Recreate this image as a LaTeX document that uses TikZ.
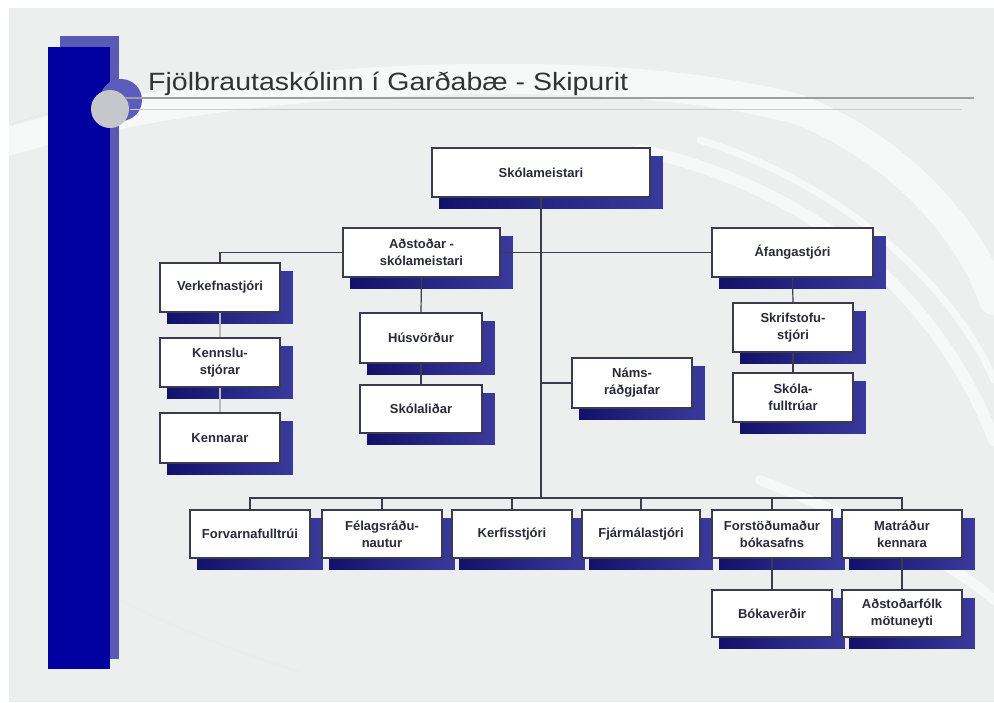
\documentclass[tikz,border=0pt]{standalone}
\usepackage{fontspec}
\setmainfont{Liberation Sans}
\usepackage{graphicx}
\pgfdeclarelayer{bg}
\pgfdeclarelayer{shad}
\pgfsetlayers{bg,shad,main}
\definecolor{slidebg}{HTML}{EDEFEF}
\definecolor{barblue}{HTML}{0000A0}
\definecolor{barlight}{HTML}{5A5AB4}
\definecolor{ringblue}{HTML}{5C5CBC}
\definecolor{dotgray}{HTML}{C6C7CC}
\definecolor{boxline}{HTML}{3A3A50}
\definecolor{conn}{HTML}{3C3C4C}
\definecolor{txt}{HTML}{2A2A38}
\definecolor{navyA}{HTML}{12126A}
\definecolor{navyB}{HTML}{3A3A9E}
\tikzset{
  bx/.style={draw=boxline, line width=1.8pt, fill=white, inner sep=0pt, align=center,
    text=txt, font=\fontsize{13}{17}\selectfont\bfseries},
  shd/.style={left color=navyA, right color=navyB},
  cline/.style={draw=conn, line width=1.2pt},
  lline/.style={draw=gray!55, line width=1.2pt},
  swoosh/.style={draw=white, opacity=0.6, line cap=round},
}
\newcommand{\orgbox}[6]{%
  \node[bx, minimum width=#4pt-#2pt, minimum height=#5pt-#3pt] (#1) at ({(#2+#4)/2},{(#3+#5)/2}) {#6};
  \begin{pgfonlayer}{shad}
    \shade[shd] ([shift={(8pt,-9pt)}]#1.north west) rectangle ([shift={(12pt,-11pt)}]#1.south east);
  \end{pgfonlayer}}
\begin{document}
\begin{tikzpicture}[x=1pt,y=-1pt]
\useasboundingbox (0,0) rectangle (994,702);
\begin{pgfonlayer}{bg}
  \fill[white] (0,0) rectangle (994,702);
  \fill[slidebg] (9,8) rectangle (994,702);
  % swooshes
  \draw[swoosh, line width=30pt] (10,140) .. controls (250,70) and (620,60) .. (800,110) .. controls (900,150) and (970,230) .. (994,300);
  \draw[swoosh, line width=12pt] (640,150) .. controls (820,190) and (940,300) .. (994,440);
  \draw[swoosh, line width=7pt] (700,140) .. controls (860,190) and (960,300) .. (994,380);
  \draw[swoosh, line width=10pt] (760,480) .. controls (860,520) and (950,560) .. (994,600);
  \draw[gray!20, line width=3pt, opacity=.6] (10,125) .. controls (60,110) and (100,100) .. (140,88);
  \draw[gray!15, line width=2pt] (120,600) .. controls (170,625) and (230,650) .. (300,672);
  % left bars
  \fill[barlight] (60,36) rectangle (119,659);
  \fill[barblue] (48,47) rectangle (110,669);
  \fill[ringblue] (121,100) circle (21);
  \fill[dotgray] (110,109) circle (19);
  % title lines
  \draw[color=black!38, line width=1.6pt] (125,98) -- (974,98);
  \draw[color=black!20, line width=1pt] (130,109) -- (962,109);
\end{pgfonlayer}
\node[anchor=base west, inner sep=0pt, text=black!80, font=\fontsize{25}{30}\selectfont] (title) at (148,90)
  {\scalebox{1.14}[1]{Fjölbrautaskólinn í Garðabæ - Skipurit}};
% boxes
\orgbox{sm}{432}{148}{650}{197}{Skólameistari}
\orgbox{ad}{343}{228}{500}{277}{Aðstoðar -\\skólameistari}
\orgbox{af}{712}{228}{873}{277}{Áfangastjóri}
\orgbox{vk}{160}{263}{280}{312}{Verkefnastjóri}
\orgbox{ks}{160}{338}{280}{387}{Kennslu-\\stjórar}
\orgbox{kn}{160}{413}{280}{463}{Kennarar}
\orgbox{hv}{360}{313}{482}{363}{Húsvörður}
\orgbox{sl}{360}{385}{482}{433}{Skólaliðar}
\orgbox{nr}{572}{358}{692}{408}{Náms-\\ráðgjafar}
\orgbox{sk}{733}{303}{853}{352}{Skrifstofu-\\stjóri}
\orgbox{sf}{733}{373}{853}{422}{Skóla-\\fulltrúar}
\orgbox{fv}{190}{510}{310}{558}{Forvarnafulltrúi}
\orgbox{fr}{322}{510}{442}{558}{Félagsráðu-\\nautur}
\orgbox{ke}{452}{510}{572}{558}{Kerfisstjóri}
\orgbox{fj}{582}{510}{700}{558}{Fjármálastjóri}
\orgbox{fb}{712}{510}{832}{558}{Forstöðumaður\\bókasafns}
\orgbox{mk}{842}{510}{962}{558}{Matráður\\kennara}
\orgbox{bv}{712}{590}{832}{637}{Bókaverðir}
\orgbox{am}{842}{590}{962}{637}{Aðstoðarfólk\\mötuneyti}
% connectors
\coordinate (bus) at (541,498);
\begin{pgfonlayer}{shad}
  \draw[cline] (sm.south) -- (bus);
  \draw[cline] (vk.north) |- (af.west);
  \draw[cline] (ad.south) -- (hv.north);
  \draw[cline] (hv.south) -- (sl.north);
  \draw[cline] (af.south) -- (sk.north);
  \draw[cline] (sk.south) -- (sf.north);
  \draw[cline] (nr.west) -- (nr.west -| sm.south);
  \draw[lline] (vk.south) -- (ks.north);
  \draw[lline] (ks.south) -- (kn.north);
  \draw[cline] (fv.north) |- (bus) -| (mk.north);
  \draw[cline] (fr.north) -- (fr.north |- bus);
  \draw[cline] (ke.north) -- (ke.north |- bus);
  \draw[cline] (fj.north) -- (fj.north |- bus);
  \draw[cline] (fb.north) -- (fb.north |- bus);
  \draw[cline] (fb.south) -- (bv.north);
  \draw[cline] (mk.south) -- (am.north);
\end{pgfonlayer}
\end{tikzpicture}
\end{document}
